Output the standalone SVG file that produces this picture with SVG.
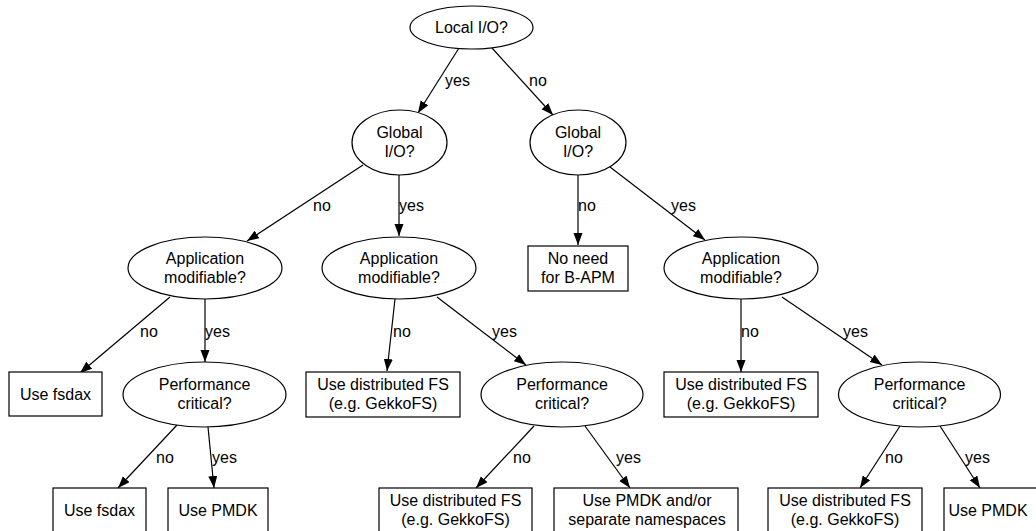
<svg xmlns="http://www.w3.org/2000/svg" width="1036" height="531" viewBox="0 0 1036 531">
<style>
text{font-family:"Liberation Sans",Arial,sans-serif;font-size:16px;fill:#000}
.n text{text-anchor:middle}
.n ellipse,.n rect{fill:#fff;stroke:#000;stroke-width:1.2}
.e line{stroke:#000;stroke-width:1.2;marker-end:url(#ah)}
</style>
<defs>
<marker id="ah" markerUnits="userSpaceOnUse" markerWidth="13" markerHeight="10" refX="12" refY="4.5" orient="auto">
<path d="M0,0 L12,4.5 L0,9 z" fill="#000"/>
</marker>
</defs>
<rect width="1036" height="531" fill="#fff"/>
<g id="connectors" class="e">
<line x1="459" y1="48" x2="418" y2="113"/>
<line x1="492" y1="48" x2="553" y2="115"/>
<line x1="363" y1="165" x2="247" y2="241"/>
<line x1="399" y1="175" x2="399" y2="236"/>
<line x1="578" y1="175" x2="578" y2="245"/>
<line x1="610" y1="167" x2="705" y2="240"/>
<line x1="170" y1="297" x2="80" y2="373"/>
<line x1="205" y1="299" x2="205" y2="362"/>
<line x1="395" y1="299" x2="387" y2="371"/>
<line x1="437" y1="297" x2="526" y2="365"/>
<line x1="741" y1="299" x2="741" y2="372"/>
<line x1="782" y1="297" x2="882" y2="365"/>
<line x1="177" y1="425" x2="118" y2="488"/>
<line x1="208" y1="427" x2="214" y2="488"/>
<line x1="534" y1="426" x2="476" y2="488"/>
<line x1="585" y1="426" x2="630" y2="488"/>
<line x1="900" y1="426" x2="860" y2="488"/>
<line x1="940" y1="426" x2="980" y2="488"/>
<text x="445" y="86">yes</text>
<text x="529" y="86">no</text>
<text x="313" y="211">no</text>
<text x="399" y="211">yes</text>
<text x="578" y="211">no</text>
<text x="671" y="211">yes</text>
<text x="140" y="337">no</text>
<text x="205" y="337">yes</text>
<text x="393" y="337">no</text>
<text x="492" y="337">yes</text>
<text x="741" y="337">no</text>
<text x="843" y="337">yes</text>
<text x="156" y="463">no</text>
<text x="212" y="463">yes</text>
<text x="513" y="463">no</text>
<text x="616" y="463">yes</text>
<text x="885" y="463">no</text>
<text x="965" y="463">yes</text>
</g>
<g id="local_io" class="n"><ellipse cx="471.5" cy="27.5" rx="61.5" ry="21.5"/><text x="471.5" y="33">Local I/O?</text></g>
<g id="global_io_l" class="n"><ellipse cx="399.5" cy="142.5" rx="47.5" ry="32.5"/><text x="399.5" y="138">Global</text><text x="399.5" y="157">I/O?</text></g>
<g id="global_io_r" class="n"><ellipse cx="578" cy="142.5" rx="48" ry="32.5"/><text x="578" y="138">Global</text><text x="578" y="157">I/O?</text></g>
<g id="no_need" class="n"><rect x="528" y="246" width="100" height="45"/><text x="578" y="264">No need</text><text x="578" y="283">for B-APM</text></g>
<g id="app_l" class="n"><ellipse cx="205" cy="268" rx="77" ry="31"/><text x="205" y="263.5">Application</text><text x="205" y="282.5">modifiable?</text></g>
<g id="app_m" class="n"><ellipse cx="399" cy="268" rx="77" ry="31"/><text x="399" y="263.5">Application</text><text x="399" y="282.5">modifiable?</text></g>
<g id="app_r" class="n"><ellipse cx="741" cy="268" rx="77" ry="31"/><text x="741" y="263.5">Application</text><text x="741" y="282.5">modifiable?</text></g>
<g id="fsdax_1" class="n"><rect x="9" y="372" width="93" height="44"/><text x="55.5" y="400">Use fsdax</text></g>
<g id="perf_l" class="n"><ellipse cx="204.5" cy="394.5" rx="81.5" ry="32.5"/><text x="204.5" y="390">Performance</text><text x="204.5" y="409">critical?</text></g>
<g id="dist_m" class="n"><rect x="306" y="372" width="154" height="45"/><text x="383" y="390">Use distributed FS</text><text x="383" y="409">(e.g. GekkoFS)</text></g>
<g id="perf_m" class="n"><ellipse cx="562" cy="394.5" rx="81" ry="32.5"/><text x="562" y="390">Performance</text><text x="562" y="409">critical?</text></g>
<g id="dist_r" class="n"><rect x="664" y="372" width="154" height="45"/><text x="741" y="390">Use distributed FS</text><text x="741" y="409">(e.g. GekkoFS)</text></g>
<g id="perf_r" class="n"><ellipse cx="919.5" cy="394.5" rx="81" ry="32.5"/><text x="919.5" y="390">Performance</text><text x="919.5" y="409">critical?</text></g>
<g id="fsdax_2" class="n"><rect x="53" y="488" width="93" height="45"/><text x="99.5" y="516">Use fsdax</text></g>
<g id="pmdk_l" class="n"><rect x="168" y="488" width="100" height="45"/><text x="218" y="516">Use PMDK</text></g>
<g id="dist_b" class="n"><rect x="379" y="488" width="153" height="45"/><text x="455.5" y="506">Use distributed FS</text><text x="455.5" y="525">(e.g. GekkoFS)</text></g>
<g id="pmdk_ns" class="n"><rect x="554" y="488" width="184" height="45"/><text x="647" y="506">Use PMDK and/or</text><text x="647" y="525">separate namespaces</text></g>
<g id="dist_b2" class="n"><rect x="768" y="488" width="154" height="45"/><text x="845" y="506">Use distributed FS</text><text x="845" y="525">(e.g. GekkoFS)</text></g>
<g id="pmdk_r" class="n"><rect x="944" y="488" width="100" height="45"/><text x="988" y="516">Use PMDK</text></g>
</svg>
